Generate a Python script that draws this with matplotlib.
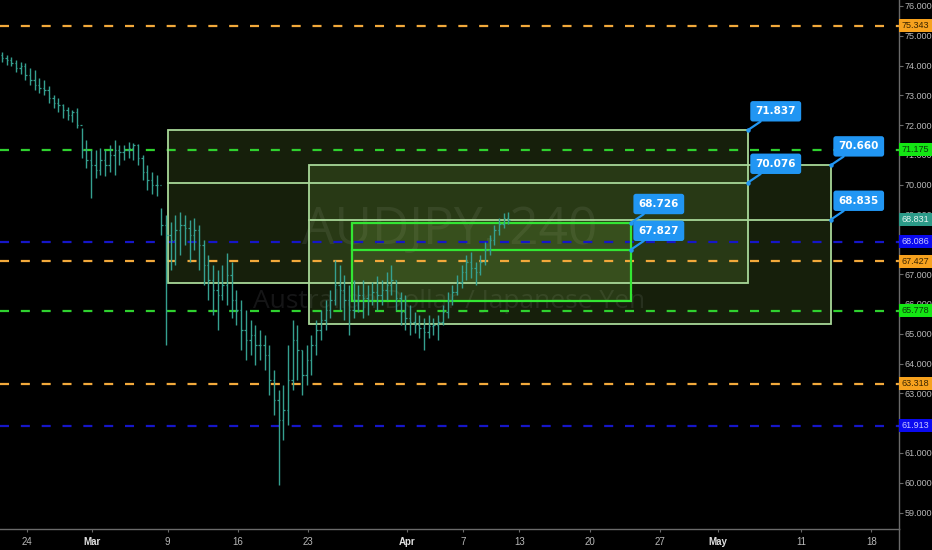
import matplotlib
matplotlib.use("Agg")
import matplotlib.pyplot as plt
import matplotlib.transforms as mtransforms
from matplotlib.patches import Rectangle
from matplotlib.lines import Line2D

# ---------------- data (prices, AUDJPY 240) ----------------
highs = [74.46, 74.36, 74.29, 74.19, 74.12, 74.09, 73.92, 73.85, 73.58, 73.52,
         73.31, 73.01, 72.91, 72.71, 72.61, 72.51, 72.58, 71.91, 71.50, 71.17,
         71.17, 71.23, 71.17, 71.33, 71.50, 71.33, 71.33, 71.44, 71.40, 71.37,
         71.00, 70.66, 70.43, 70.33, 69.22, 68.99, 68.75, 68.99, 69.09, 68.99,
         68.82, 68.89, 68.65, 68.15, 67.64, 67.31, 67.14, 67.31, 67.71, 67.41,
         66.47, 66.13, 65.80, 65.46, 65.29, 65.13, 64.96, 64.62, 63.78, 63.11,
         63.28, 64.62, 65.46, 65.29, 64.46, 64.62, 64.96, 65.46, 65.80, 66.13,
         66.47, 67.48, 67.31, 66.97, 66.64, 66.80, 66.64, 66.80, 66.64, 66.74,
         66.94, 66.80, 67.07, 67.31, 66.80, 66.40, 66.30, 65.97, 65.73, 65.63,
         65.53, 65.63, 65.53, 65.63, 65.97, 66.40, 66.64, 66.97, 67.31, 67.64,
         67.74, 67.41, 67.64, 68.08, 68.31, 68.65, 68.89, 69.05, 69.09]
lows = [74.12, 74.02, 73.99, 73.78, 73.72, 73.52, 73.35, 73.18, 73.08, 73.01,
        72.74, 72.58, 72.44, 72.24, 72.17, 72.11, 71.91, 70.90, 70.56, 69.56,
        70.23, 70.33, 70.29, 70.43, 70.33, 70.66, 70.83, 70.90, 70.83, 70.66,
        70.16, 69.82, 69.69, 69.62, 68.31, 64.62, 67.14, 67.31, 67.64, 67.98,
        67.41, 67.81, 67.14, 66.64, 66.13, 65.63, 65.13, 66.13, 65.97, 65.53,
        65.29, 64.46, 64.12, 64.29, 63.95, 64.12, 63.78, 62.95, 62.27, 59.93,
        61.44, 61.94, 63.11, 63.45, 62.95, 63.28, 63.62, 64.29, 64.79, 65.13,
        65.53, 65.97, 65.80, 65.46, 64.96, 65.53, 65.73, 65.53, 65.63, 65.97,
        65.80, 65.97, 66.13, 66.30, 65.80, 65.29, 65.13, 64.96, 65.03, 64.86,
        64.46, 64.86, 64.96, 64.79, 65.29, 65.53, 65.97, 66.30, 66.54, 66.80,
        66.87, 66.64, 66.97, 67.31, 67.64, 67.98, 68.31, 68.55, 68.68]
closes = [74.26, 74.19, 74.09, 73.92, 73.99, 73.68, 73.52, 73.35, 73.25, 73.18,
          72.91, 72.74, 72.68, 72.51, 72.34, 72.44, 72.01, 71.17, 70.83, 70.66,
          70.50, 70.83, 70.66, 71.00, 71.17, 71.10, 71.17, 71.23, 71.33, 70.90,
          70.43, 70.16, 69.99, 69.99, 68.65, 68.31, 68.15, 68.48, 68.65, 68.55,
          68.31, 68.48, 67.98, 67.31, 66.80, 66.47, 66.30, 66.64, 66.97, 66.13,
          65.80, 65.13, 64.79, 64.96, 64.62, 64.62, 64.29, 63.45, 62.78, 62.11,
          62.44, 63.45, 64.79, 64.46, 63.62, 64.12, 64.62, 65.13, 65.46, 65.80,
          66.13, 66.64, 66.47, 66.13, 65.80, 66.13, 66.30, 66.20, 66.13, 66.40,
          66.30, 66.47, 66.64, 66.80, 66.20, 65.73, 65.53, 65.40, 65.29, 65.19,
          65.06, 65.26, 65.29, 65.40, 65.73, 66.13, 66.40, 66.74, 67.07, 67.41,
          67.21, 67.07, 67.41, 67.81, 68.15, 68.48, 68.68, 68.89, 68.83]
first_open = 74.36
bar_start = -1.78          # trading-day index of first 8h bar (Feb 24 = 0)
bar_step = 1.0 / 3.0

level_values = [75.343, 71.175, 68.086, 67.427, 65.778, 63.318, 61.913]
level_colors = ["#f2a93b", "#2fd12f", "#1616c8", "#f2a93b", "#2fd12f", "#f2a93b", "#1616c8"]
level_box_colors = ["#f7a21e", "#14e614", "#0a0af0", "#f7a21e", "#14e614", "#f7a21e", "#0a0af0"]
level_text_colors = ["#3a2500", "#0a3a0a", "#c8c8ff", "#3a2500", "#0a3a0a", "#3a2500", "#c8c8ff"]

last_price = 68.831

# rectangles: (x_start, x_end, top, mid, bottom)
rect_x0 = [10.02, 20.04, 23.10]
rect_x1 = [51.24, 57.14, 42.93]
rect_top = [71.837, 70.660, 68.726]
rect_mid = [70.076, 68.835, 67.827]
rect_bot = [66.70, 65.33, 66.10]

xtick_pos = [0, 4.62, 10, 15, 20, 27, 31, 35, 40, 45, 49.1, 55, 60]
xtick_labels = ["24", "Mar", "9", "16", "23", "Apr", "7", "13", "20", "27", "May", "11", "18"]
ytick_values = list(range(59, 77))

axis_font = "Liberation Sans"
axis_fs = 6.5

# ---------------- figure ----------------
W, H = 932, 550
fig = plt.figure(figsize=(W / 100, H / 100), dpi=100, facecolor="black")
ax = fig.add_axes([0, 21 / H, 899 / W, 529 / H], facecolor="black")
ax.set_xlim(-1.919, 61.976)
ax.set_ylim(58.449, 76.2013)

# watermark
ax.text(0.5, 0.565, "AUDJPY, 240", transform=ax.transAxes, ha="center", va="center",
        fontsize=37, family="Open Sans", color="#9598a1", alpha=0.14, zorder=0)
ax.text(0.5, 0.43, "Australian Dollar / Japanese Yen", transform=ax.transAxes,
        ha="center", va="center", fontsize=19, family="Open Sans",
        color="#9598a1", alpha=0.14, zorder=0)

# rectangles
for k in range(3):
    bright = (k == 2)
    ec = "#33e633" if bright else "#a8d898"
    lw = 1.6 if bright else 1.3
    fc = "#8bc34a"
    ax.add_patch(Rectangle((rect_x0[k], rect_bot[k]), rect_x1[k] - rect_x0[k],
                           rect_top[k] - rect_bot[k], facecolor=fc, alpha=0.16,
                           edgecolor="none", zorder=1))
    ax.add_patch(Rectangle((rect_x0[k], rect_bot[k]), rect_x1[k] - rect_x0[k],
                           rect_top[k] - rect_bot[k], facecolor="none",
                           edgecolor=ec, lw=lw, zorder=3))
    ax.plot([rect_x0[k], rect_x1[k]], [rect_mid[k], rect_mid[k]], color=ec, lw=lw, zorder=3)

# dashed levels
plt.rcParams["lines.scale_dashes"] = False
for v, c in zip(level_values, level_colors):
    ax.plot([-1.919, 61.976], [v, v], color=c, lw=1.6, dashes=(6.5, 8.5), zorder=2,
            solid_capstyle="butt", dash_capstyle="butt")

# OHLC bars
bar_color = "#35a090"
opens = [first_open] + closes[:-1]
xs = [bar_start + i * bar_step for i in range(len(highs))]
ax.vlines(xs, lows, highs, color=bar_color, lw=1.0, zorder=4)
ax.hlines(opens, [x - 0.1 for x in xs], xs, color=bar_color, lw=0.9, zorder=4)
ax.hlines(closes, xs, [x + 0.1 for x in xs], color=bar_color, lw=0.9, zorder=4)

# callouts
callout_pts = [(rect_x1[0], rect_top[0]), (rect_x1[0], rect_mid[0]),
               (rect_x1[1], rect_top[1]), (rect_x1[1], rect_mid[1]),
               (rect_x1[2], rect_top[2]), (rect_x1[2], rect_mid[2])]
for (xp, yp) in callout_pts:
    ax.plot([xp], [yp], marker="o", ms=2.2, color="#2196f3", zorder=6)
    ax.annotate(f"{yp:.3f}", xy=(xp, yp), xytext=(20, 13.5), textcoords="offset points",
                ha="center", va="center", fontsize=7.5, fontweight="bold",
                family="DejaVu Sans", color="white", zorder=7,
                bbox=dict(boxstyle="round,pad=0.5,rounding_size=0.25",
                          fc="#2196f3", ec="none"),
                arrowprops=dict(arrowstyle="-", color="#2196f3", lw=1.6,
                                shrinkA=0, shrinkB=0))

# axes styling
for s in ["top", "left"]:
    ax.spines[s].set_visible(False)
for s in ["bottom", "right"]:
    ax.spines[s].set_color("#6a6a6a")
    ax.spines[s].set_linewidth(1.0)

ax.yaxis.tick_right()
ax.set_yticks(ytick_values)
ax.set_yticklabels([f"{v:.3f}" for v in ytick_values], family=axis_font,
                   fontsize=axis_fs, color="#b8b8b8")
ax.tick_params(axis="y", direction="out", length=3, color="#6a6a6a", pad=1)

ax.set_xticks(xtick_pos)
ax.set_xticklabels(xtick_labels, family="Liberation Sans", fontsize=7, color="#b8b8b8")
for lbl in ax.get_xticklabels():
    if lbl.get_text() in ("Mar", "Apr", "May"):
        lbl.set_fontweight("bold")
        lbl.set_color("#e0e0e0")
ax.tick_params(axis="x", direction="out", length=2, color="#6a6a6a", pad=4)

# right-axis colored price labels
trans = mtransforms.blended_transform_factory(ax.transAxes, ax.transData)
box_w = 33 / 899
box_h = 13 / 29.8
box_vals = level_values + [last_price]
box_fc = level_box_colors + ["#2b9a88"]
box_tc = level_text_colors + ["#e8f4f2"]
for v, fc, tc in zip(box_vals, box_fc, box_tc):
    ax.add_patch(Rectangle((1.0, v - box_h / 2), box_w, box_h, transform=trans,
                           facecolor=fc, edgecolor="none", clip_on=False, zorder=10))
    ax.text(1.0 + 3 / 899, v, f"{v:.3f}", transform=trans, ha="left", va="center",
            fontsize=axis_fs, family=axis_font, color=tc, clip_on=False, zorder=11)

# right border continuing down through the time axis
fig.add_artist(Line2D([899 / W, 899 / W], [0, 21 / H], color="#6a6a6a", lw=1.0))

fig.savefig("out.png", dpi=100, facecolor="black")
